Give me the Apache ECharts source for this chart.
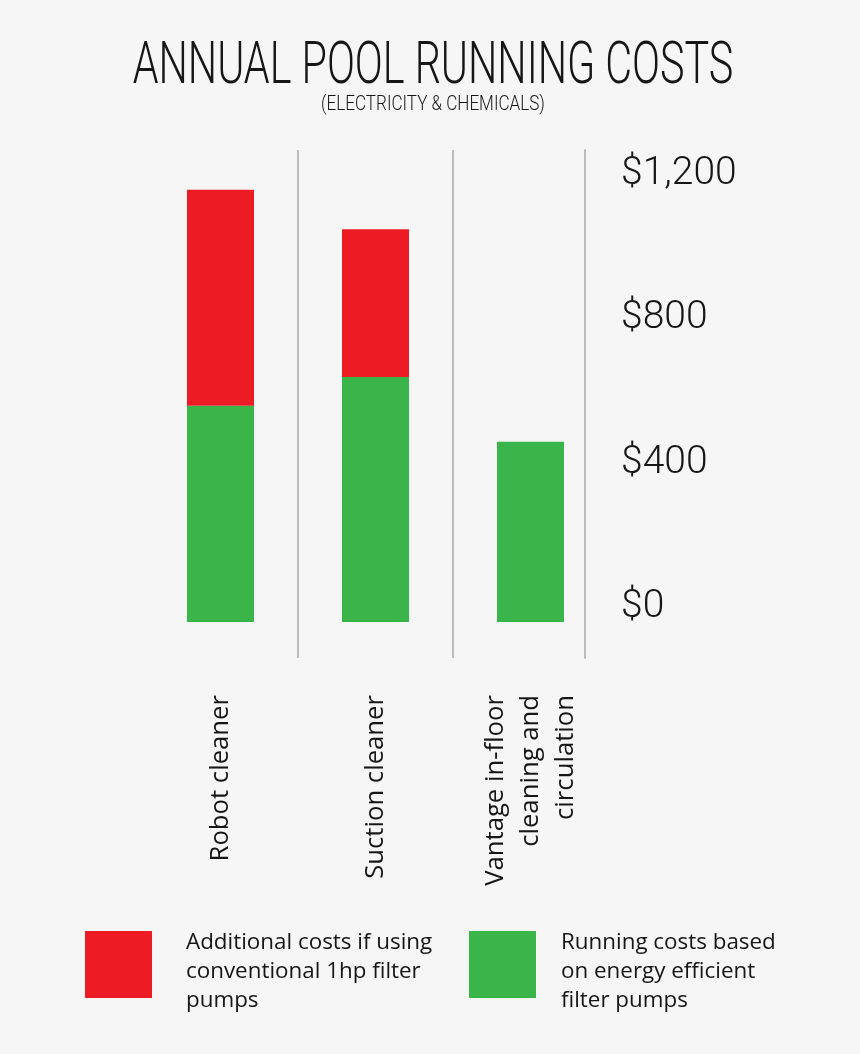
<!DOCTYPE html>
<html>
<head>
<meta charset="utf-8">
<script src="https://cdn.jsdelivr.net/npm/echarts@6/dist/echarts.min.js"></script>
<style>
  html, body { margin: 0; padding: 0; background: #f6f6f6; }
  #chart { width: 860px; height: 1054px; }
</style>
</head>
<body>
<div id="chart"></div>
<script>
// ---- data ----
const categories = ['Robot cleaner', 'Suction cleaner', 'Vantage in-floor\ncleaning and\ncirculation'];
const efficientCosts = [600, 680, 500];     // green (bottom)
const additionalCosts = [600, 410, 0];      // red (top)
const yTickValues = [0, 400, 800, 1200];
const yTickLabels = ['$0', '$400', '$800', '$1,200'];
const seriesNames = ['Additional costs if using conventional 1hp filter pumps',
                     'Running costs based on energy efficient filter pumps'];
const legendLabels = ['Additional costs if using\nconventional 1hp filter\npumps',
                      'Running costs based\non energy efficient\nfilter pumps'];
const titleText = 'ANNUAL POOL RUNNING COSTS';
const subtitleText = '(ELECTRICITY & CHEMICALS)';

const RED = '#ed1c24', GREEN = '#3ab54a', GRAY = '#bcbcbc', INK = '#161616';
const THIN = "'Roboto', 'DejaVu Sans Condensed', sans-serif";
const HUMAN = "'Open Sans', 'Noto Sans', sans-serif";

const chart = echarts.init(document.getElementById('chart'));
function legendStyle(padLeft) {
  return { fontFamily: HUMAN, fontSize: 22.4, lineHeight: 29, color: INK, padding: [0, 0, 0, padLeft],
           rich: { s: { fontSize: 1, lineHeight: 14 } } };
}
function legendFormatter(n) {
  return '{s| }\n' + legendLabels[seriesNames.indexOf(n)];
}
chart.setOption({
  backgroundColor: '#f6f6f6',
  animation: false,
  graphic: [
    { type: 'text', x: 433, y: 68, scaleX: 0.688,
      style: { text: titleText, font: "300 60px " + THIN, fill: INK,
               textAlign: 'center', textVerticalAlign: 'middle' } },
    { type: 'text', x: 433, y: 105, scaleX: 0.813,
      style: { text: subtitleText, font: "300 21px " + THIN, fill: INK,
               textAlign: 'center', textVerticalAlign: 'middle' } }
  ],
  grid: { left: 143, right: 252, top: 150, bottom: 396 },
  legend: [
    { data: [seriesNames[0]], left: 85, top: 914, padding: 0, orient: 'vertical', icon: 'rect',
      itemWidth: 67, itemHeight: 67, selectedMode: false,
      formatter: legendFormatter, textStyle: legendStyle(29) },
    { data: [seriesNames[1]], left: 469, top: 914, padding: 0, orient: 'vertical', icon: 'rect',
      itemWidth: 67, itemHeight: 67, selectedMode: false,
      formatter: legendFormatter, textStyle: legendStyle(20) }
  ],
  xAxis: {
    type: 'category',
    data: categories,
    axisLine: { show: false },
    axisTick: { show: false },
    splitLine: { show: true, interval: 0, showMinLine: false, showMaxLine: false,
                 lineStyle: { color: GRAY, width: 2 } },
    axisLabel: { interval: 0, rotate: 90, margin: 37, fontFamily: HUMAN, fontSize: 25.7,
                 lineHeight: 35, color: INK }
  },
  yAxis: {
    type: 'value',
    position: 'right',
    offset: -23.5,
    min: -100, max: 1310, interval: 100,
    axisLine: { show: true, lineStyle: { color: GRAY, width: 2 } },
    axisTick: { show: false },
    splitLine: { show: false },
    axisLabel: {
      margin: 36.5, fontFamily: THIN, fontWeight: 300, fontSize: 39, color: INK,
      verticalAlign: 'bottom', lineHeight: 30,
      formatter: v => { const i = yTickValues.indexOf(v); return i >= 0 ? yTickLabels[i] : ''; }
    }
  },
  series: [
    { name: seriesNames[1], type: 'bar', stack: 'total', barWidth: 67,
      itemStyle: { color: GREEN }, data: efficientCosts },
    { name: seriesNames[0], type: 'bar', stack: 'total', barWidth: 67,
      itemStyle: { color: RED }, data: additionalCosts }
  ]
});
</script>
</body>
</html>
